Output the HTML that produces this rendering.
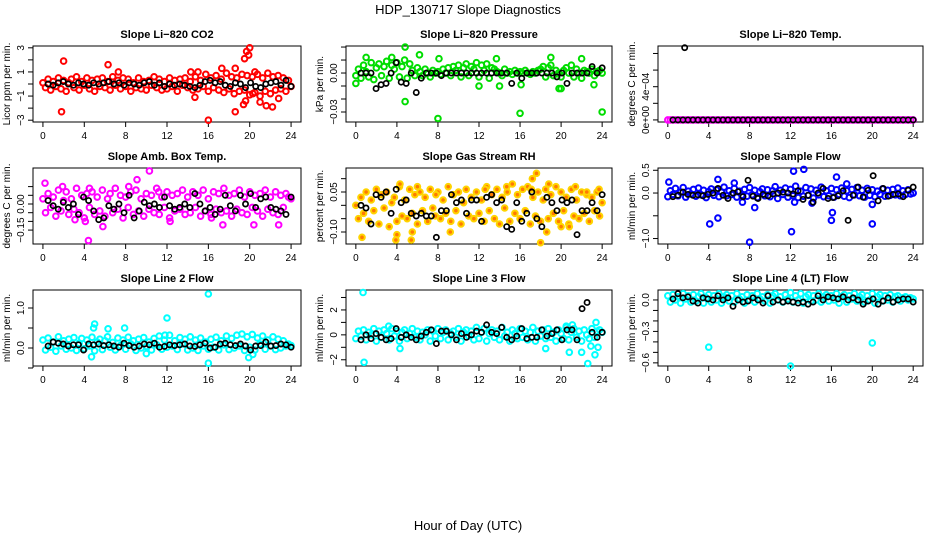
<!DOCTYPE html>
<html><head><meta charset="utf-8"><style>
body{margin:0;background:#fff}
svg{display:block;font-family:"Liberation Sans",Arial,sans-serif}
</style></head><body>
<svg id="chart" width="936" height="540" viewBox="0 0 936 540">
<text x="468" y="14" text-anchor="middle" font-size="13">HDP_130717  Slope Diagnostics</text>
<text x="468" y="530" text-anchor="middle" font-size="13">Hour of Day (UTC)</text>
</svg>
<script>
const xTicks=[0,4,8,12,16,20,24];
const co2Band=[0.1,-0.3,0.4,-0.5,0.2,-0.2,0.5,-0.4,0.3,-0.6,0.1,0.4,-0.3,0.6,-0.5,0.2,-0.1,0.5,-0.4,0.3,-0.6,0.4,-0.2,0.5,-0.3,0.2,-0.5,0.6,-0.1,0.3,-0.4,0.5,-0.2,0.4,-0.6,0.1,-0.3,0.5,-0.4,0.2,-0.5,0.3,-0.1,0.6,-0.3,0.4,-0.5,0.2,-0.4,0.5,-0.2,0.3,-0.6,0.4,-0.1,0.5,-0.3,0.2,-0.5,0.6,-0.4,0.3,-0.2,0.8,-0.6,0.5,-0.3,0.7,-0.5,0.4,-0.7,0.9,-0.4,0.6,-0.8,0.5,-0.6,0.8,-0.5,0.7,-0.9,0.6,-0.7,0.8,-1.0,0.5,-0.6,0.9,-0.8,0.6,-0.5,0.7,-0.4,0.5,-0.6,0.3,-0.2];
const co2OutH=[1.8,2.0,6.3,7.3,14.7,16.0,17.3,18.6,18.6,19.4,19.5,19.7,19.9,20.0,20.3,21.0,21.6,22.2,22.8,20.5,15.0,19.6,14.3];
const co2OutV=[-2.3,1.9,1.6,1.0,-1.1,-3.0,1.3,-2.3,1.3,-1.7,2.1,2.7,2.4,3.0,-0.8,-1.5,-1.8,-1.9,-1.2,1.0,1.0,-1.4,1.0];
const co2Black=[0.0,-0.1,0.1,0.2,0.0,-0.1,0.1,0.0,-0.1,0.1,0.0,0.1,0.2,0.0,0.1,-0.1,0.1,0.0,-0.1,0.1,0.2,-0.1,0.1,-0.2,0.0,-0.1,0.0,-0.1,-0.2,-0.3,-0.1,0.2,0.3,0.1,0.2,-0.1,-0.2,0.1,0.0,-0.3,0.1,-0.2,-0.3,0.0,0.1,0.2,-0.1,0.3,-0.2];
const presBand=[-0.002,0.003,-0.004,0.006,0.001,-0.003,0.008,-0.005,0.004,0.007,-0.002,0.005,0.009,-0.004,0.006,0.003,0.008,-0.003,0.005,0.010,-0.004,0.007,0.002,-0.002,0.004,0.001,-0.002,0.003,0.000,-0.003,0.002,0.000,0.001,-0.001,0.003,0.000,0.004,-0.002,0.005,0.002,0.006,-0.003,0.004,0.007,-0.002,0.005,0.003,0.008,-0.003,0.006,0.002,0.007,-0.004,0.004,0.003,0.001,0.000,-0.002,0.003,0.000,0.001,-0.001,0.002,0.000,0.001,0.000,0.002,0.000,-0.001,0.001,0.000,0.002,0.003,0.005,-0.003,0.004,0.006,-0.002,0.002,0.000,-0.003,0.002,0.004,0.000,0.006,-0.003,0.003,0.000,-0.004,0.002,0.001,0.000,0.003,-0.002,0.001,0.002,0.000];
const presOutH=[4.8,4.8,8.0,16.0,24.0,6.2,1.0,3.5,12.0,13.7,19.0,22.0,8.1,19.8,20.0,14.0,16.1,23.2,0.0];
const presOutV=[0.020,-0.022,-0.035,-0.031,-0.030,0.014,0.012,0.012,-0.010,0.011,0.012,0.011,0.011,-0.012,-0.012,-0.010,-0.009,-0.009,-0.008];
const presBlack=[0.000,0.000,0.000,-0.012,-0.009,-0.008,0.000,0.008,-0.007,-0.008,0.000,-0.015,-0.004,0.000,0.000,0.000,-0.002,0.000,0.000,0.000,0.000,0.000,0.000,0.000,0.000,0.000,0.000,0.000,0.000,0.000,-0.008,0.000,-0.004,0.000,0.000,0.000,0.000,0.000,0.000,-0.003,0.000,-0.008,0.000,0.000,0.000,0.000,0.005,0.000,0.004];
const tempOutH=[1.65];
const tempOutV=[0.00087];
const ambBand=[0.03,-0.05,0.06,-0.02,0.04,-0.07,0.08,-0.04,0.02,0.07,-0.06,0.03,-0.03,0.09,-0.05,0.05,-0.08,0.06,-0.02,0.07,-0.06,0.04,-0.04,0.08,-0.07,0.03,0.06,-0.05,0.09,-0.03,0.05,-0.08,0.04,-0.02,0.07,-0.06,0.08,-0.04,0.03,-0.07,0.06,-0.03,0.05,-0.05,0.09,-0.06,0.04,-0.02,0.07,-0.08,0.05,-0.04,0.06,-0.03,0.08,-0.06,0.04,-0.05,0.07,-0.02,0.05,-0.07,0.08,-0.04,0.03,-0.06,0.07,-0.03,0.06,-0.05,0.09,-0.04,0.05,-0.07,0.06,-0.03,0.08,-0.05,0.04,-0.06,0.07,-0.02,0.05,-0.04,0.06,-0.07,0.08,-0.03,0.04,-0.05,0.07,-0.06,0.05,-0.02,0.06,0.04,0.03];
const ambOutH=[0.2,1.9,4.5,4.4,10.3,9.1,5.8,4.1,16.3,17.4,20.4,22.8,12.3,11.2,3.1,8.3];
const ambOutV=[0.12,0.10,0.09,-0.21,0.19,0.14,-0.13,-0.10,-0.08,-0.12,-0.12,-0.12,-0.10,0.07,-0.09,0.10];
const ambBlack=[0.02,-0.01,-0.03,0.01,-0.02,0.0,-0.06,0.04,0.02,-0.04,-0.09,-0.08,-0.01,-0.03,0.0,-0.05,0.05,-0.08,-0.04,0.01,-0.01,0.0,-0.02,0.04,-0.01,-0.03,-0.02,0.0,-0.02,0.06,0.0,-0.04,-0.02,-0.06,-0.03,0.05,-0.01,-0.04,0.05,0.0,0.06,-0.02,0.03,0.04,-0.02,-0.03,-0.04,-0.06,0.04];
const rhBand=[0.00,-0.05,0.03,-0.03,0.05,-0.06,0.02,-0.02,0.06,-0.07,0.04,-0.01,0.05,-0.08,0.01,0.03,-0.06,0.07,-0.04,0.02,-0.05,0.06,-0.03,0.04,-0.07,0.05,-0.02,0.03,-0.06,0.06,-0.01,-0.04,0.05,-0.05,0.02,-0.03,0.07,-0.06,0.04,-0.02,0.05,-0.07,0.01,0.06,-0.04,0.03,-0.05,0.05,-0.03,0.02,-0.06,0.07,-0.02,0.04,-0.05,0.06,-0.07,0.03,-0.01,0.05,-0.06,0.08,-0.03,0.04,-0.05,0.06,-0.02,0.07,-0.07,0.03,-0.04,0.05,-0.06,0.02,0.06,-0.05,0.04,-0.03,0.07,-0.06,0.05,-0.02,0.03,-0.07,0.06,-0.04,0.02,-0.05,0.05,-0.03,0.04,-0.06,0.03,-0.02,0.05,-0.04,0.01];
const rhOutH=[0.6,4.0,4.3,5.4,6.0,5.5,7.8,9.2,12.6,14.7,17.2,17.6,18.0,17.1,18.8,18.6,20.0,21.4,23.7,20.8,22.5,3.9];
const rhOutV=[-0.12,-0.11,0.08,-0.13,0.07,-0.10,0.04,-0.10,0.06,0.07,0.10,0.12,-0.14,0.06,0.08,-0.10,-0.08,0.07,0.06,-0.08,0.05,-0.13];
const rhBlack=[0.00,-0.01,-0.07,0.04,0.03,0.05,-0.03,0.06,0.01,0.02,-0.03,-0.04,-0.03,-0.04,-0.04,-0.12,-0.02,-0.02,0.04,0.01,0.02,-0.03,0.02,0.02,-0.06,0.03,0.04,0.01,0.02,-0.08,-0.09,0.01,-0.06,-0.03,0.05,-0.05,-0.08,0.03,0.01,-0.02,0.02,0.01,0.02,-0.11,-0.02,-0.02,0.01,-0.02,0.04];
const flowBand=[-0.08,0.05,-0.03,0.10,-0.06,0.02,0.12,-0.09,0.04,-0.02,0.08,-0.07,0.11,-0.04,0.06,-0.10,0.03,0.09,-0.05,0.07,-0.08,0.02,0.13,-0.06,0.05,-0.03,0.10,-0.09,0.04,-0.05,0.08,-0.07,0.12,-0.04,0.06,-0.10,0.03,0.09,-0.06,0.07,-0.08,0.05,0.14,-0.12,0.06,-0.03,0.11,-0.09,0.08,-0.06,0.15,-0.10,0.04,-0.07,0.12,-0.05,0.09,-0.11,0.06,-0.04,0.13,-0.08,0.05,-0.06,0.10,-0.09,0.07,-0.03,0.11,-0.07,0.05,-0.10,0.08,-0.04,0.12,-0.06,0.06,-0.09,0.10,-0.05,0.07,-0.08,0.04,-0.03,0.09,-0.07,0.06,-0.05,0.08,-0.04,0.11,-0.06,0.05,-0.03,0.07,-0.02,0.00];
const flowOutH=[4.1,4.9,8.0,12.1,16.0,16.1,20.0,13.3,12.3,16.5,4.9,0.1,6.5,7.3,8.5,12.4,17.5,20.0,14.1];
const flowOutV=[-0.68,-0.55,-1.08,-0.85,-0.60,-0.43,-0.68,0.52,0.48,0.35,0.30,0.24,0.22,-0.20,-0.32,-0.20,0.20,-0.25,-0.22];
const flowBlack=[-0.08,-0.05,0.02,-0.03,-0.05,-0.04,-0.06,-0.03,0.00,0.10,-0.05,-0.12,0.00,0.03,-0.08,0.28,-0.07,-0.12,-0.03,-0.06,-0.02,0.00,0.02,0.00,-0.02,0.05,-0.14,-0.05,-0.20,0.00,0.10,-0.12,-0.10,-0.06,0.05,-0.60,-0.05,0.13,-0.09,0.06,0.38,-0.17,0.10,-0.07,-0.03,-0.02,-0.08,0.06,0.13];
const l2Band=[0.20,-0.05,0.25,0.02,0.15,-0.08,0.28,0.05,0.18,-0.03,0.22,0.00,0.26,-0.06,0.12,0.24,-0.02,0.20,0.05,0.27,-0.07,0.15,0.22,-0.04,0.18,0.28,0.02,0.14,-0.05,0.25,0.06,0.20,-0.03,0.27,0.10,0.18,-0.06,0.22,0.00,0.26,0.04,0.15,-0.05,0.24,0.08,0.30,-0.03,0.20,0.02,0.32,0.05,0.18,-0.04,0.26,0.10,0.22,-0.05,0.28,0.00,0.20,-0.06,0.25,0.05,0.15,-0.03,0.22,0.02,0.27,-0.05,0.18,0.08,0.30,-0.04,0.24,0.00,0.32,0.05,0.35,-0.06,0.28,0.02,0.34,-0.05,0.25,0.10,0.30,-0.03,0.20,0.05,0.28,-0.04,0.22,0.00,0.18,0.05,0.10,0.06];
const l2OutH=[16.0,12.0,16.0,5.0,4.9,4.7,19.9,7.9,6.3,10.0,20.3,11.8];
const l2OutV=[1.35,0.75,-0.38,0.60,0.50,-0.22,-0.24,0.50,0.48,-0.14,-0.16,0.32];
const l2Black=[0.05,0.15,0.12,0.10,0.05,0.08,0.08,-0.05,0.10,0.08,0.10,0.06,0.08,0.05,0.02,0.12,0.06,0.02,0.05,0.10,0.08,0.12,0.02,0.04,0.08,0.06,0.08,0.10,0.05,0.04,0.08,0.12,0.00,0.02,0.10,0.12,0.08,0.06,0.10,0.05,-0.05,0.05,0.06,0.15,0.05,0.06,0.10,0.08,0.02];
const l3Band=[-0.3,0.3,-0.1,0.4,-0.4,0.2,0.0,0.5,-0.5,0.3,-0.2,0.4,0.1,-0.4,0.5,-0.1,0.3,-0.5,0.2,0.4,-0.3,0.1,0.5,-0.2,0.3,-0.4,0.2,0.0,0.4,-0.5,0.3,-0.1,0.5,-0.3,0.2,0.4,-0.4,0.1,0.3,-0.2,0.5,-0.5,0.2,0.4,-0.1,0.3,-0.4,0.6,-0.3,0.2,0.5,-0.5,0.1,0.4,-0.2,0.3,-0.4,0.6,-0.1,0.2,-0.5,0.4,0.1,-0.3,0.5,-0.2,0.3,-0.4,0.2,0.6,-0.5,0.3,-0.1,0.4,-0.3,0.5,-0.2,0.2,-0.5,0.4,0.1,-0.3,0.6,-0.4,0.2,0.5,-0.2,0.3,-0.5,0.4,0.0,-0.3,0.5,-0.2,0.3,0.4,0.2];
const l3OutH=[0.7,0.8,4.3,18.5,20.8,22.0,22.6,23.3,23.6,23.4,22.9,3.2,20.5,21.1];
const l3OutV=[3.4,-2.2,-1.1,-1.1,-1.4,-1.4,-2.3,-1.6,-1.0,1.0,-0.9,0.7,0.7,0.8];
const l3Black=[-0.4,0.0,-0.3,0.1,-0.2,-0.4,-0.3,0.5,-0.2,0.0,-0.2,-0.4,-0.1,0.2,0.4,-0.7,0.3,0.3,0.0,-0.4,0.1,-0.2,0.0,0.3,0.2,0.8,0.2,0.1,0.6,-0.2,-0.4,-0.1,0.5,-0.3,-0.2,-0.2,0.4,-0.1,0.1,0.4,-0.4,0.4,0.4,-0.4,2.1,2.6,0.2,-0.2,0.2];
const l4Band=[0.04,-0.02,0.05,0.00,0.03,-0.03,0.06,0.01,0.04,-0.02,0.05,-0.01,0.03,0.06,-0.03,0.02,0.05,-0.02,0.04,0.00,0.06,-0.03,0.03,0.05,-0.01,0.04,-0.02,0.06,0.01,0.03,-0.03,0.05,0.00,0.04,-0.02,0.06,0.01,0.03,-0.01,0.05,-0.03,0.04,0.06,0.00,0.03,-0.02,0.05,0.01,0.07,-0.02,0.04,0.00,0.06,-0.03,0.03,0.05,-0.01,0.04,0.00,0.06,-0.02,0.03,0.05,-0.01,0.04,0.00,0.06,-0.03,0.03,0.05,-0.02,0.04,0.01,0.06,-0.01,0.03,0.05,-0.02,0.04,0.00,0.06,-0.03,0.03,0.05,-0.01,0.04,0.00,0.05,-0.02,0.03,0.04,-0.01,0.02,0.03,0.00,0.02,0.01];
const l4OutH=[4.0,12.0,20.0];
const l4OutV=[-0.45,-0.63,-0.41];
const l4Black=[0.01,0.06,0.02,0.03,-0.01,-0.03,0.02,0.01,0.00,0.04,0.00,0.02,-0.06,0.00,-0.02,-0.01,0.02,0.00,-0.03,0.04,-0.02,0.00,-0.02,-0.01,-0.02,-0.03,-0.02,-0.04,-0.02,0.04,0.00,0.03,0.02,0.01,0.03,0.00,0.02,0.00,-0.04,-0.01,0.01,-0.04,-0.01,0.02,-0.02,0.00,0.01,0.01,-0.02];
const zeros=[];for(let i=0;i<97;i++)zeros.push(0);
const zerosB=[];for(let i=0;i<49;i++)zerosB.push(0);

const panels=[
 {name:'co2',title:'Slope Li\u2212820 CO2',ylab:'Licor ppm per min.',col:'#ff0000',ylim:[-3.15,3.15],ticks:[-3,-2,-1,0,1,2,3],labs:{'-3':'\u22123','-1':'\u22121','1':'1','3':'3'},band:co2Band,oh:co2OutH,ov:co2OutV,black:co2Black,bh:[],bv:[]},
 {name:'pressure',title:'Slope Li\u2212820 Pressure',ylab:'kPa per min.',col:'#00dd00',ylim:[-0.0377,0.0208],ticks:[-0.03,-0.02,-0.01,0,0.01,0.02],labs:{'0':'0.00','-0.03':'\u22120.03'},band:presBand,oh:presOutH,ov:presOutV,black:presBlack,bh:[],bv:[]},
 {name:'temp',title:'Slope Li\u2212820 Temp.',ylab:'degrees C per min.',col:'#ff00ff',ylim:[-0.000025,0.00089],ticks:[0,0.0002,0.0004,0.0006,0.0008],labs:{'0':'0e+00','0.0004':'4e\u221204'},band:zeros,oh:[],ov:[],black:zerosB,bh:tempOutH,bv:tempOutV},
 {name:'amb-temp',title:'Slope Amb. Box Temp.',ylab:'degrees C per min.',col:'#ff00ff',ylim:[-0.23,0.207],ticks:[-0.15,-0.1,-0.05,0,0.05,0.1],labs:{'0':'0.00','-0.15':'\u22120.15'},band:ambBand,oh:ambOutH,ov:ambOutV,black:ambBlack,bh:[],bv:[]},
 {name:'rh',title:'Slope Gas Stream RH',ylab:'percent per min.',col:'#ffd400',ylim:[-0.145,0.14],ticks:[-0.1,-0.05,0,0.05,0.1],labs:{'0.05':'0.05','-0.1':'\u22120.10'},band:rhBand,oh:rhOutH,ov:rhOutV,black:rhBlack,bh:[],bv:[],fill:'#ff7a00'},
 {name:'sample-flow',title:'Slope Sample Flow',ylab:'ml/min per min.',col:'#0000ff',ylim:[-1.12,0.55],ticks:[-1,-0.5,0,0.5],labs:{'-1':'\u22121.0','0':'0.0','0.5':'0.5'},band:flowBand,oh:flowOutH,ov:flowOutV,black:flowBlack,bh:[],bv:[]},
 {name:'line2-flow',title:'Slope Line 2 Flow',ylab:'ml/min per min.',col:'#00ffff',ylim:[-0.45,1.45],ticks:[-0.5,0,0.5,1],labs:{'0':'0.0','1':'1.0'},band:l2Band,oh:l2OutH,ov:l2OutV,black:l2Black,bh:[],bv:[]},
 {name:'line3-flow',title:'Slope Line 3 Flow',ylab:'ml/min per min.',col:'#00ffff',ylim:[-2.5,3.6],ticks:[-2,-1,0,1,2,3],labs:{'-2':'\u22122','0':'0','2':'2'},band:l3Band,oh:l3OutH,ov:l3OutV,black:l3Black,bh:[],bv:[]},
 {name:'line4-flow',title:'Slope Line 4 (LT) Flow',ylab:'ml/min per min.',col:'#00ffff',ylim:[-0.63,0.095],ticks:[-0.6,-0.5,-0.4,-0.3,-0.2,-0.1,0],labs:{'0':'0.0','-0.3':'\u22120.3','-0.6':'\u22120.6'},band:l4Band,oh:l4OutH,ov:l4OutV,black:l4Black,bh:[],bv:[]}
];
const colsX=[[33,301],[346,612],[658,923]];
const rowsY=[[46,122],[168,244],[290,366]];
const NS='http://www.w3.org/2000/svg';
const svg=document.getElementById('chart');
function mk(tag,attrs,parent){const e=document.createElementNS(NS,tag);for(const k in attrs)e.setAttribute(k,attrs[k]);parent.appendChild(e);return e;}
panels.forEach((p,i)=>{
 const [x0,x1]=colsX[i%3],[y0,y1]=rowsY[Math.floor(i/3)];
 const g=mk('g',{},svg);
 
 
 const pad=(x1-x0)*0.04/1.08;
 const xs=h=>x0+pad+(h/24)*(x1-x0-2*pad);
 const ys=v=>y1-(v-p.ylim[0])/(p.ylim[1]-p.ylim[0])*(y1-y0);
 const t=mk('text',{x:(x0+x1)/2,y:y0-8,'text-anchor':'middle','font-size':11,'font-weight':'bold'},g);t.textContent=p.title;
 
 
 const box=mk('rect',{x:x0,y:y0,width:x1-x0,height:y1-y0,fill:'none',stroke:'#000','stroke-width':1},g);
 
 
 const xa=mk('g',{},g);
 
 
 mk('line',{x1:xs(xTicks[0]),x2:xs(xTicks[xTicks.length-1]),y1:y1,y2:y1,stroke:'#000'},xa);
 xTicks.forEach(h=>{mk('line',{x1:xs(h),x2:xs(h),y1:y1,y2:y1+5,stroke:'#000'},xa);
  const l=mk('text',{x:xs(h),y:y1+17,'text-anchor':'middle','font-size':10},xa);l.textContent=h;});
 const ya=mk('g',{},g);
 
 
 mk('line',{x1:x0,x2:x0,y1:ys(p.ticks[0]),y2:ys(p.ticks[p.ticks.length-1]),stroke:'#000'},ya);
 p.ticks.forEach(v=>{mk('line',{x1:x0-5,x2:x0,y1:ys(v),y2:ys(v),stroke:'#000'},ya);
  const key=String(v);if(p.labs[key]!==undefined){const l=mk('text',{x:0,y:0,'text-anchor':'middle','font-size':10,transform:`translate(${x0-9},${ys(v)}) rotate(-90)`},ya);l.textContent=p.labs[key];}});
 const yt=mk('text',{x:0,y:0,'text-anchor':'middle','font-size':10,transform:`translate(${x0-23},${(y0+y1)/2}) rotate(-90)`},g);yt.textContent=p.ylab;
 
 
 const sc=mk('g',{fill:p.fill||'none',stroke:p.col,'stroke-width':2},g);
 
 
 p.band.forEach((v,k)=>{mk('circle',{cx:xs(k*24/(p.band.length-1)),cy:ys(v),r:2.8},sc);});
 p.oh.forEach((h,k)=>{mk('circle',{cx:xs(h),cy:ys(p.ov[k]),r:2.8},sc);});
 const sb=mk('g',{fill:'none',stroke:'#000','stroke-width':1.7},g);
 
 
 p.black.forEach((v,k)=>{mk('circle',{cx:xs(0.5+k*23.5/(p.black.length-1)),cy:ys(v),r:2.6},sb);});
 p.bh.forEach((h,k)=>{mk('circle',{cx:xs(h),cy:ys(p.bv[k]),r:2.6},sb);});
});
</script>
</body></html>
